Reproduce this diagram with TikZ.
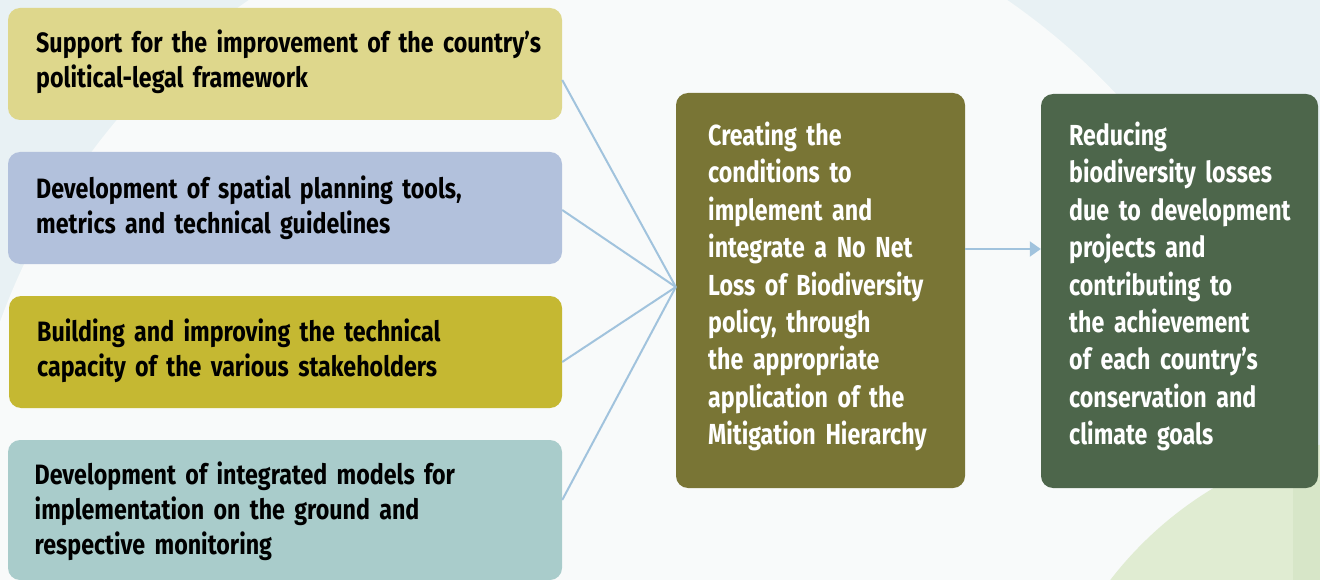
\documentclass[tikz,border=0pt]{standalone}
\usepackage{fontspec}
\newfontfamily\cf{Fira Sans}[FakeStretch=0.8]
\newfontfamily\cfl{Fira Sans}[FakeStretch=0.83]
\usetikzlibrary{arrows.meta,calc}
\definecolor{bgblue}{HTML}{E8F1F4}
\definecolor{bgwhite}{HTML}{F8FAFA}
\definecolor{bggreen}{HTML}{E0ECD2}
\definecolor{bggreentwo}{HTML}{D7E6C8}
\definecolor{cA}{HTML}{DED78C}
\definecolor{cB}{HTML}{B2C1DC}
\definecolor{cC}{HTML}{C5B832}
\definecolor{cD}{HTML}{A9CCCB}
\definecolor{cMid}{HTML}{797535}
\definecolor{cRgt}{HTML}{4D664B}
\definecolor{linkc}{HTML}{A1C3DD}
\begin{document}
\begin{tikzpicture}[x=1pt,y=-1pt,
 box/.style={rounded corners=12pt, inner sep=0pt, draw=none},
 ltext/.style={anchor=base west, inner sep=0pt, text width=540pt, align=left, text=black, font=\cfl\bfseries\fontsize{28}{35}\selectfont},
 btext/.style={anchor=base west, inner sep=0pt, text width=260pt, align=left, text=white, font=\cf\bfseries\fontsize{29}{37.4}\selectfont},
 linkline/.style={draw=linkc, line width=2pt}]
\useasboundingbox (0,0) rectangle (1320,580);
\clip (0,0) rectangle (1320,580);
\fill[bgblue] (0,0) rectangle (1320,580);
\fill[bgwhite] (628,550) circle[radius=668pt];
\fill[bggreen] (1405,807) circle[radius=372pt];
\fill[bggreentwo] (1293,480) rectangle (1320,580);

\node[box, fill=cA, minimum width=554pt, minimum height=112pt] (b1) at (285,64) {};
\node[box, fill=cB, minimum width=554pt, minimum height=112pt] (b2) at (285,208) {};
\node[box, fill=cC, minimum width=553pt, minimum height=112pt] (b3) at (285.5,352) {};
\node[box, fill=cD, minimum width=554pt, minimum height=140pt] (b4) at (285,510) {};
\node[box, fill=cMid, minimum width=289pt, minimum height=395pt] (mid) at (820.5,290.5) {};
\node[box, fill=cRgt, minimum width=277pt, minimum height=394pt] (rgt) at (1179.5,291) {};

\node[ltext] (t1) at (36,53) {Support for the improvement of the country’s\\political-legal framework};
\node[ltext] (t2) at (36,199) {Development of spatial planning tools,\\metrics and technical guidelines};
\node[ltext] (t3) at (37,341) {Building and improving the technical\\capacity of the various stakeholders};
\node[ltext] (t4) at (34.5,484) {Development of integrated models for\\implementation on the ground and\\respective monitoring};
\node[btext] (tm) at (708,145.5) {Creating the\\conditions to\\implement and\\integrate a No Net\\Loss of Biodiversity\\policy, through\\the appropriate\\application of the\\Mitigation Hierarchy};
\node[btext] (tr) at (1069,145.5) {Reducing\\biodiversity losses\\due to development\\projects and\\contributing to\\the achievement\\of each country’s\\conservation and\\climate goals};

\coordinate (hub) at ($(mid.west)+(0,-3.5)$);
\draw[linkline] ($(b1.east)+(0,16)$) -- (hub);
\draw[linkline] ($(b2.east)+(0,2)$) -- (hub);
\draw[linkline] ($(b3.east)+(0,10)$) -- (hub);
\draw[linkline] ($(b4.east)+(0,-10)$) -- (hub);
\draw[linkline, -{Triangle[length=11pt,width=15pt]}] ($(mid.east)+(0,-41.5)$) -- ($(rgt.west)+(0,-42)$);
\end{tikzpicture}
\end{document}
